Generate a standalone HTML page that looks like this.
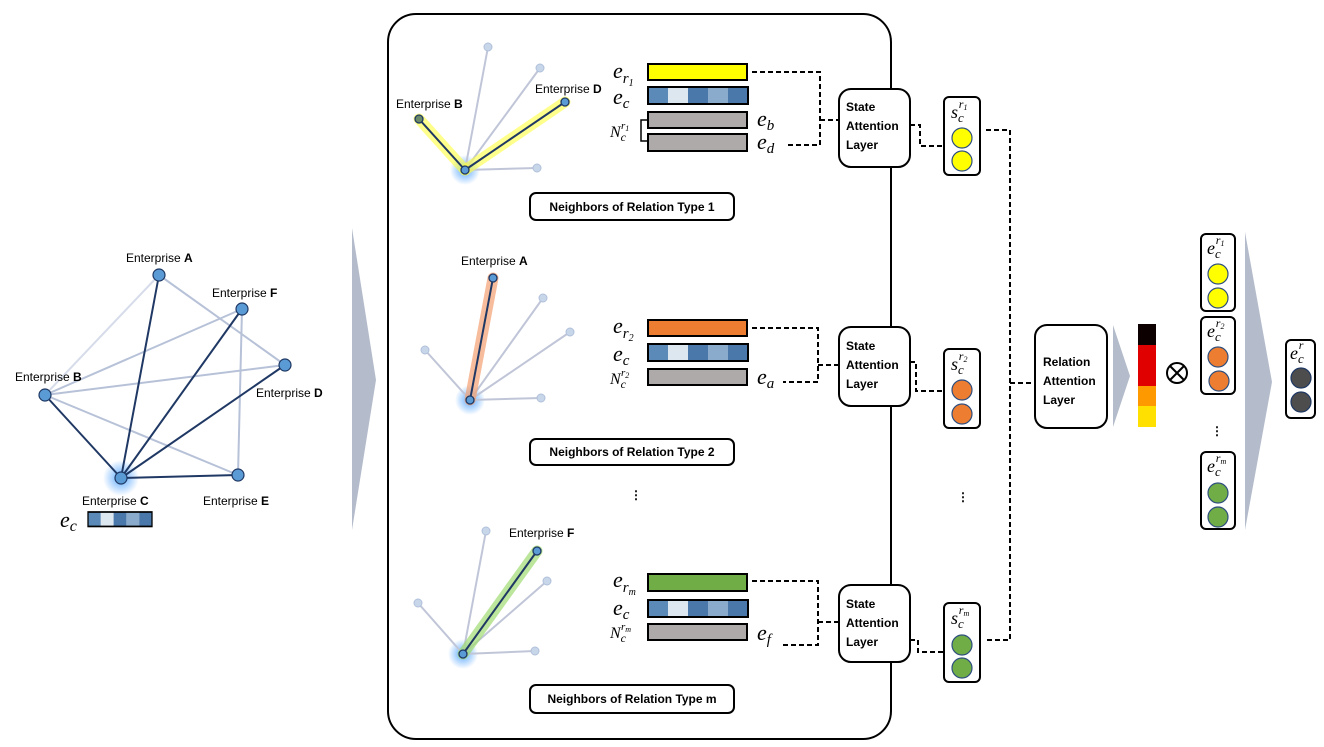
<!DOCTYPE html>
<html><head><meta charset="utf-8"><style>
html,body{margin:0;padding:0;background:#fff}
svg{display:block}
.t{font-family:"Liberation Sans",sans-serif;font-size:12px;fill:#000}
.b{font-family:"Liberation Sans",sans-serif;font-size:12px;font-weight:bold;fill:#000}
.m{font-family:"Liberation Serif",serif;font-style:italic;fill:#000}
</style></head><body>
<svg width="1324" height="747" viewBox="0 0 1324 747" xmlns="http://www.w3.org/2000/svg">
<defs>
<radialGradient id="glow"><stop offset="0" stop-color="#4aa0ff" stop-opacity="0.9"/><stop offset="1" stop-color="#4aa0ff" stop-opacity="0"/></radialGradient>
<g id="strip">
<rect x="0" y="0" width="20" height="17" fill="#5b8ab8"/><rect x="20" y="0" width="20" height="17" fill="#dde7f0"/><rect x="40" y="0" width="20" height="17" fill="#4a78aa"/><rect x="60" y="0" width="20" height="17" fill="#8aabcb"/><rect x="80" y="0" width="20" height="17" fill="#4a78aa"/><rect x="0" y="0" width="100" height="17" fill="none" stroke="#000" stroke-width="2"/>
</g>
</defs>
<polygon points="352,228 376,380 352,530" fill="#b4bccc"/>
<polygon points="1113,325 1130,376 1113,427" fill="#b4bccc"/>
<polygon points="1245,232 1272,382 1245,530" fill="#b4bccc"/>

<circle cx="121" cy="478" r="18" fill="url(#glow)"/>
<g stroke-width="2" fill="none">
<line x1="159" y1="275" x2="45" y2="395" stroke="#d6dcea"/>
<line x1="159" y1="275" x2="285" y2="365" stroke="#b7c2d8"/>
<line x1="242" y1="309" x2="45" y2="395" stroke="#b7c2d8"/>
<line x1="285" y1="365" x2="45" y2="395" stroke="#b7c2d8"/>
<line x1="45" y1="395" x2="238" y2="475" stroke="#b7c2d8"/>
<line x1="242" y1="309" x2="238" y2="475" stroke="#b7c2d8"/>
<g stroke="#1f3864">
<line x1="121" y1="478" x2="159" y2="275"/><line x1="121" y1="478" x2="242" y2="309"/><line x1="121" y1="478" x2="285" y2="365"/><line x1="121" y1="478" x2="45" y2="395"/><line x1="121" y1="478" x2="238" y2="475"/>
</g></g>
<g fill="#5b9bd5" stroke="#1f3864" stroke-width="1.2">
<circle cx="159" cy="275" r="6"/><circle cx="242" cy="309" r="6"/><circle cx="285" cy="365" r="6"/><circle cx="45" cy="395" r="6"/><circle cx="121" cy="478" r="6"/><circle cx="238" cy="475" r="6"/>
</g>
<text class="t" x="126" y="262">Enterprise <tspan font-weight="bold">A</tspan></text>
<text class="t" x="212" y="297">Enterprise <tspan font-weight="bold">F</tspan></text>
<text class="t" x="15" y="381">Enterprise <tspan font-weight="bold">B</tspan></text>
<text class="t" x="256" y="397">Enterprise <tspan font-weight="bold">D</tspan></text>
<text class="t" x="82" y="505">Enterprise <tspan font-weight="bold">C</tspan></text>
<text class="t" x="203" y="505">Enterprise <tspan font-weight="bold">E</tspan></text>
<text class="m" x="60" y="527" font-size="22">e<tspan font-size="16" dy="4">c</tspan></text>
<g transform="translate(88,512) scale(0.64,0.85)"><use href="#strip"/></g>

<rect x="388" y="14" width="503" height="725" rx="28" fill="none" stroke="#000" stroke-width="2"/>

<!-- panel 1 -->
<circle cx="465" cy="170" r="15" fill="url(#glow)"/>
<g stroke="#c0c6d8" stroke-width="2"><line x1="465" y1="170" x2="488" y2="47"/><line x1="465" y1="170" x2="540" y2="68"/><line x1="465" y1="170" x2="537" y2="168"/></g>
<g stroke="#ffff40" stroke-opacity="0.6" stroke-width="11" stroke-linecap="round"><line x1="465" y1="170" x2="565" y2="102"/><line x1="465" y1="170" x2="419" y2="119"/></g>
<g stroke="#1f3864" stroke-width="2"><line x1="465" y1="170" x2="565" y2="102"/><line x1="465" y1="170" x2="419" y2="119"/></g>
<g fill="#c8d6ea" stroke="#b0c0da"><circle cx="488" cy="47" r="4"/><circle cx="540" cy="68" r="4"/><circle cx="537" cy="168" r="4"/></g>
<circle cx="565" cy="102" r="4" fill="#5b9bd5" stroke="#1f3864" stroke-width="1.3"/>
<circle cx="419" cy="119" r="4" fill="#6a8a6a" stroke="#1f3864" stroke-width="1.3"/>
<circle cx="465" cy="170" r="4" fill="#5b9bd5" stroke="#1f3864" stroke-width="1.3"/>
<text class="t" x="396" y="108">Enterprise <tspan font-weight="bold">B</tspan></text>
<text class="t" x="535" y="93">Enterprise <tspan font-weight="bold">D</tspan></text>
<rect x="648" y="64" width="99" height="16" fill="#ffff00" stroke="#000" stroke-width="2"/>
<use href="#strip" transform="translate(648,87)"/>
<rect x="648" y="112" width="99" height="16" fill="#aeaaaa" stroke="#000" stroke-width="2"/>
<rect x="648" y="134" width="99" height="17" fill="#aeaaaa" stroke="#000" stroke-width="2"/>
<path d="M648,120 H641 V141 H648" fill="none" stroke="#000" stroke-width="1.5"/>
<text class="m" x="613" y="78" font-size="22">e<tspan font-size="15" dy="5">r</tspan><tspan font-size="10" dy="3">1</tspan></text>
<text class="m" x="613" y="104" font-size="22">e<tspan font-size="15" dy="4">c</tspan></text>
<text class="m" x="610" y="137" font-size="16">N<tspan font-size="12" dy="4">c</tspan><tspan font-size="11" dx="-5" dy="-12">r</tspan><tspan font-size="8" dy="2">1</tspan></text>
<text class="m" x="757" y="126" font-size="22">e<tspan font-size="15" dy="4">b</tspan></text>
<text class="m" x="757" y="149" font-size="22">e<tspan font-size="15" dy="4">d</tspan></text>
<g fill="none" stroke="#000" stroke-width="2" stroke-dasharray="5,3">
<path d="M752,72 H820 V145 H786"/><path d="M820,120 H839"/>
<path d="M910,125 H920 V146 H944"/>
<path d="M752,328 H818 V382 H783"/><path d="M818,365 H839"/>
<path d="M910,362 H916 V391 H944"/>
<path d="M752,581 H818 V645 H783"/><path d="M818,622 H839"/>
<path d="M910,640 H918 V652 H944"/>
<path d="M986,130 H1010 V640 H986"/><path d="M1010,383 H1035"/>
</g>
<rect x="839" y="89" width="71" height="78" rx="12" fill="#fff" stroke="#000" stroke-width="2"/>
<text class="b" x="846" y="111">State</text><text class="b" x="846" y="130">Attention</text><text class="b" x="846" y="149">Layer</text>
<rect x="530" y="193" width="204" height="27" rx="6" fill="#fff" stroke="#000" stroke-width="2"/>
<text class="b" x="632" y="211" text-anchor="middle" font-size="11.5">Neighbors of Relation Type 1</text>

<!-- panel 2 -->
<circle cx="470" cy="400" r="15" fill="url(#glow)"/>
<g stroke="#c0c6d8" stroke-width="2"><line x1="470" y1="400" x2="543" y2="298"/><line x1="470" y1="400" x2="570" y2="332"/><line x1="470" y1="400" x2="425" y2="350"/><line x1="470" y1="400" x2="541" y2="398"/></g>
<line x1="470" y1="400" x2="493" y2="278" stroke="#f4a070" stroke-opacity="0.7" stroke-width="11" stroke-linecap="round"/>
<line x1="470" y1="400" x2="493" y2="278" stroke="#1f3864" stroke-width="2"/>
<g fill="#c8d6ea" stroke="#b0c0da"><circle cx="543" cy="298" r="4"/><circle cx="570" cy="332" r="4"/><circle cx="425" cy="350" r="4"/><circle cx="541" cy="398" r="4"/></g>
<circle cx="493" cy="278" r="4" fill="#5b9bd5" stroke="#1f3864" stroke-width="1.3"/>
<circle cx="470" cy="400" r="4" fill="#5b9bd5" stroke="#1f3864" stroke-width="1.3"/>
<text class="t" x="461" y="265">Enterprise <tspan font-weight="bold">A</tspan></text>
<rect x="648" y="320" width="99" height="16" fill="#ed7d31" stroke="#000" stroke-width="2"/>
<use href="#strip" transform="translate(648,344)"/>
<rect x="648" y="369" width="99" height="16" fill="#aeaaaa" stroke="#000" stroke-width="2"/>
<text class="m" x="613" y="333" font-size="22">e<tspan font-size="15" dy="5">r</tspan><tspan font-size="10" dy="3">2</tspan></text>
<text class="m" x="613" y="361" font-size="22">e<tspan font-size="15" dy="4">c</tspan></text>
<text class="m" x="610" y="384" font-size="16">N<tspan font-size="12" dy="4">c</tspan><tspan font-size="11" dx="-5" dy="-12">r</tspan><tspan font-size="8" dy="2">2</tspan></text>
<text class="m" x="757" y="384" font-size="22">e<tspan font-size="15" dy="4">a</tspan></text>
<rect x="839" y="327" width="71" height="79" rx="12" fill="#fff" stroke="#000" stroke-width="2"/>
<text class="b" x="846" y="350">State</text><text class="b" x="846" y="369">Attention</text><text class="b" x="846" y="388">Layer</text>
<rect x="530" y="439" width="204" height="26" rx="6" fill="#fff" stroke="#000" stroke-width="2"/>
<text class="b" x="632" y="456" text-anchor="middle" font-size="11.5">Neighbors of Relation Type 2</text>
<text class="b" x="636" y="499" text-anchor="middle" font-size="24">⋮</text>

<!-- panel 3 -->
<circle cx="463" cy="654" r="15" fill="url(#glow)"/>
<g stroke="#c0c6d8" stroke-width="2"><line x1="463" y1="654" x2="486" y2="531"/><line x1="463" y1="654" x2="547" y2="581"/><line x1="463" y1="654" x2="418" y2="603"/><line x1="463" y1="654" x2="535" y2="651"/></g>
<line x1="463" y1="654" x2="537" y2="551" stroke="#9fdc70" stroke-opacity="0.7" stroke-width="11" stroke-linecap="round"/>
<line x1="463" y1="654" x2="537" y2="551" stroke="#1f3864" stroke-width="2"/>
<g fill="#c8d6ea" stroke="#b0c0da"><circle cx="486" cy="531" r="4"/><circle cx="547" cy="581" r="4"/><circle cx="418" cy="603" r="4"/><circle cx="535" cy="651" r="4"/></g>
<circle cx="537" cy="551" r="4" fill="#5b9bd5" stroke="#1f3864" stroke-width="1.3"/>
<circle cx="463" cy="654" r="4" fill="#5b9bd5" stroke="#1f3864" stroke-width="1.3"/>
<text class="t" x="509" y="537">Enterprise <tspan font-weight="bold">F</tspan></text>
<rect x="648" y="574" width="99" height="17" fill="#70ad47" stroke="#000" stroke-width="2"/>
<use href="#strip" transform="translate(648,600)"/>
<rect x="648" y="624" width="99" height="16" fill="#aeaaaa" stroke="#000" stroke-width="2"/>
<text class="m" x="613" y="587" font-size="22">e<tspan font-size="15" dy="5">r</tspan><tspan font-size="10" dy="3">m</tspan></text>
<text class="m" x="613" y="615" font-size="22">e<tspan font-size="15" dy="4">c</tspan></text>
<text class="m" x="610" y="638" font-size="16">N<tspan font-size="12" dy="4">c</tspan><tspan font-size="11" dx="-5" dy="-12">r</tspan><tspan font-size="8" dy="2">m</tspan></text>
<text class="m" x="757" y="640" font-size="22">e<tspan font-size="15" dy="4">f</tspan></text>
<rect x="839" y="585" width="71" height="77" rx="12" fill="#fff" stroke="#000" stroke-width="2"/>
<text class="b" x="846" y="608">State</text><text class="b" x="846" y="627">Attention</text><text class="b" x="846" y="646">Layer</text>
<rect x="530" y="685" width="204" height="28" rx="6" fill="#fff" stroke="#000" stroke-width="2"/>
<text class="b" x="632" y="703" text-anchor="middle" font-size="11.5">Neighbors of Relation Type m</text>

<g stroke="#000" stroke-width="2" fill="#fff">
<rect x="944" y="97" width="36" height="78" rx="5"/>
<rect x="944" y="349" width="36" height="79" rx="5"/>
<rect x="944" y="603" width="36" height="79" rx="5"/>
</g>
<g stroke="#2f4f7f" stroke-width="1.2">
<circle cx="962" cy="138" r="10" fill="#ffff00"/><circle cx="962" cy="161" r="10" fill="#ffff00"/>
<circle cx="962" cy="390" r="10" fill="#ed7d31"/><circle cx="962" cy="414" r="10" fill="#ed7d31"/>
<circle cx="962" cy="645" r="10" fill="#70ad47"/><circle cx="962" cy="668" r="10" fill="#70ad47"/>
</g>
<text class="m" x="951" y="118" font-size="18">s<tspan font-size="13" dy="4">c</tspan><tspan font-size="12" dx="-5" dy="-14">r</tspan><tspan font-size="8" dy="2">1</tspan></text>
<text class="m" x="951" y="370" font-size="18">s<tspan font-size="13" dy="4">c</tspan><tspan font-size="12" dx="-5" dy="-14">r</tspan><tspan font-size="8" dy="2">2</tspan></text>
<text class="m" x="951" y="624" font-size="18">s<tspan font-size="13" dy="4">c</tspan><tspan font-size="12" dx="-5" dy="-14">r</tspan><tspan font-size="8" dy="2">m</tspan></text>
<text class="b" x="963" y="501" text-anchor="middle" font-size="24">⋮</text>

<rect x="1035" y="325" width="72" height="103" rx="12" fill="#fff" stroke="#000" stroke-width="2"/>
<text class="b" x="1043" y="366">Relation</text><text class="b" x="1043" y="385">Attention</text><text class="b" x="1043" y="404">Layer</text>
<rect x="1138" y="324" width="18" height="21" fill="#0c0000"/>
<rect x="1138" y="345" width="18" height="41" fill="#e00000"/>
<rect x="1138" y="386" width="18" height="20" fill="#ff9900"/>
<rect x="1138" y="406" width="18" height="21" fill="#ffe000"/>
<circle cx="1177" cy="373" r="10" fill="none" stroke="#000" stroke-width="2"/>
<line x1="1170" y1="366" x2="1184" y2="380" stroke="#000" stroke-width="2"/><line x1="1184" y1="366" x2="1170" y2="380" stroke="#000" stroke-width="2"/>

<g stroke="#000" stroke-width="2" fill="#fff">
<rect x="1201" y="234" width="34" height="77" rx="5"/>
<rect x="1201" y="317" width="34" height="77" rx="5"/>
<rect x="1201" y="452" width="34" height="77" rx="5"/>
<rect x="1286" y="340" width="29" height="78" rx="5"/>
</g>
<g stroke="#2f4f7f" stroke-width="1.2">
<circle cx="1218" cy="274" r="10" fill="#ffff00"/><circle cx="1218" cy="298" r="10" fill="#ffff00"/>
<circle cx="1218" cy="357" r="10" fill="#ed7d31"/><circle cx="1219" cy="381" r="10" fill="#ed7d31"/>
<circle cx="1218" cy="493" r="10" fill="#70ad47"/><circle cx="1218" cy="517" r="10" fill="#70ad47"/>
<circle cx="1301" cy="378" r="10" fill="#4d4d4d" stroke="#1f3864"/><circle cx="1301" cy="402" r="10" fill="#4d4d4d" stroke="#1f3864"/>
</g>
<text class="m" x="1207" y="254" font-size="18">e<tspan font-size="13" dy="4">c</tspan><tspan font-size="12" dx="-5" dy="-14">r</tspan><tspan font-size="8" dy="2">1</tspan></text>
<text class="m" x="1207" y="337" font-size="18">e<tspan font-size="13" dy="4">c</tspan><tspan font-size="12" dx="-5" dy="-14">r</tspan><tspan font-size="8" dy="2">2</tspan></text>
<text class="m" x="1207" y="472" font-size="18">e<tspan font-size="13" dy="4">c</tspan><tspan font-size="12" dx="-5" dy="-14">r</tspan><tspan font-size="8" dy="2">m</tspan></text>
<text class="m" x="1290" y="359" font-size="18">e<tspan font-size="13" dy="4">c</tspan><tspan font-size="12" dx="-5" dy="-14">r</tspan></text>
<text class="b" x="1217" y="435" text-anchor="middle" font-size="24">⋮</text>
</svg>
</body></html>
